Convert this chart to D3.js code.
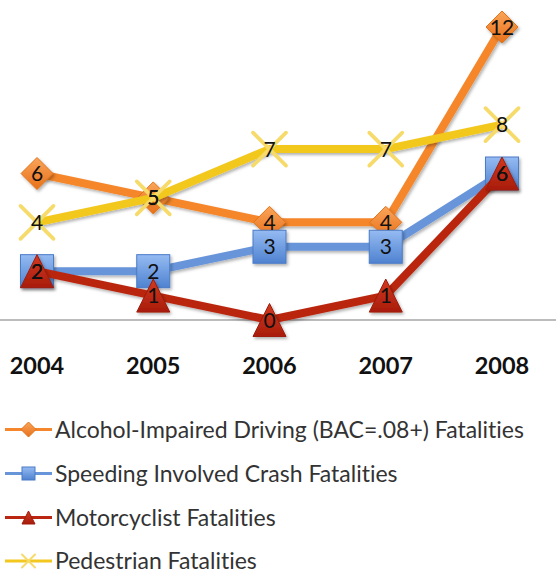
<!DOCTYPE html>
<html><head><meta charset="utf-8">
<script src="https://cdn.jsdelivr.net/npm/d3@7/dist/d3.min.js"></script>
<style>html,body{margin:0;padding:0;background:#fff;}svg{display:block;}text{font-variant-ligatures:none;font-feature-settings:"liga" 0;}</style>
</head><body>
<svg id="c" width="556" height="575"></svg>
<script>
const years = ["2004","2005","2006","2007","2008"];
const seriesNames = ["Alcohol-Impaired Driving (BAC=.08+) Fatalities","Speeding Involved Crash Fatalities","Motorcyclist Fatalities","Pedestrian Fatalities"];
const alcohol = [6,5,4,4,12];
const speeding = [2,2,3,3,6];
const motorcyclist = [2,1,0,1,6];
const pedestrian = [4,5,7,7,8];

const colors = ["#F5862C","#6895DA","#BA2611","#F3C81E"];
const markers = ["diamond","square","triangle","x"];
const seriesValues = [alcohol, speeding, motorcyclist, pedestrian];

const svg = d3.select("#c");
const defs = svg.append("defs");
const f = defs.append("filter").attr("id","sh").attr("x","-30%").attr("y","-30%").attr("width","160%").attr("height","160%");
f.append("feDropShadow").attr("dx",1.5).attr("dy",2).attr("stdDeviation",1.5).attr("flood-color","#000").attr("flood-opacity",0.3);

function grad(id, c1, c2){
  const g = defs.append("linearGradient").attr("id",id).attr("x1",0).attr("y1",0).attr("x2",0).attr("y2",1);
  g.append("stop").attr("offset","0%").attr("stop-color",c1);
  g.append("stop").attr("offset","100%").attr("stop-color",c2);
}
grad("gd","#F9A55A","#E8701A");
grad("gs","#95BBF2","#4F82D0");
grad("gt","#D23A1F","#A81C0C");

const x = d3.scalePoint().domain(years).range([37, 502]);
const y = d3.scaleLinear().domain([0,12]).range([320, 27]);

// axis baseline
svg.append("line").attr("x1",0).attr("x2",556).attr("y1",y(0)).attr("y2",y(0))
  .attr("stroke","#A6A6A6").attr("stroke-width",1.5);

// category labels
svg.append("g").selectAll("text").data(years).join("text")
  .attr("x",d=>x(d)).attr("y",374).attr("text-anchor","middle")
  .attr("font-family","Lato, 'Open Sans', sans-serif").attr("font-weight","bold")
  .attr("font-size",23.5).attr("fill","#111").text(d=>d);

function drawMarker(g, type, cx, cy, s, i){
  const h = s/2;
  if(type==="diamond"){
    g.append("path").attr("d",`M${cx},${cy-h}L${cx+h},${cy}L${cx},${cy+h}L${cx-h},${cy}Z`)
      .attr("fill","url(#gd)").attr("stroke","#E27318").attr("stroke-width",1);
  } else if(type==="square"){
    g.append("rect").attr("x",cx-h).attr("y",cy-h).attr("width",s).attr("height",s)
      .attr("fill","url(#gs)").attr("stroke","#4A7BC6").attr("stroke-width",1);
  } else if(type==="triangle"){
    g.append("path").attr("d",`M${cx},${cy-h}L${cx+h},${cy+h}L${cx-h},${cy+h}Z`)
      .attr("fill","url(#gt)").attr("stroke","#9E1B0B").attr("stroke-width",1);
  } else {
    g.append("path").attr("d",`M${cx-h},${cy-h}L${cx+h},${cy+h}M${cx+h},${cy-h}L${cx-h},${cy+h}`)
      .attr("stroke","#F6DA6A").attr("stroke-width",Math.max(2,s/9)).attr("stroke-linecap","round").attr("fill","none");
  }
}

const line = d3.line().x((d,i)=>x(years[i])).y(d=>y(d));
const plot = svg.append("g");
seriesValues.forEach((vals,si)=>{
  const g = plot.append("g");
  g.append("path").datum(vals).attr("d",line).attr("fill","none")
    .attr("stroke",colors[si]).attr("stroke-width",8).attr("stroke-linejoin","round")
    .attr("filter","url(#sh)");
  const mg = g.append("g").attr("filter", markers[si]==="x" ? null : "url(#sh)");
  vals.forEach((v,i)=>{
    drawMarker(mg, markers[si], x(years[i]), y(v), markers[si]==="diamond"?32:33, si);
  });
});

// data labels
const lab = svg.append("g");
seriesValues.forEach((vals,si)=>{
  vals.forEach((v,i)=>{
    lab.append("text").attr("x",x(years[i])).attr("y",y(v)).attr("dy","0.36em")
      .attr("text-anchor","middle").attr("font-family","Lato, sans-serif")
      .attr("font-size",21).attr("fill","#111").text(v);
  });
});

// legend
const leg = svg.append("g");
const legY = [429.5, 473.5, 517.5, 561];
seriesNames.forEach((name,si)=>{
  const ly = legY[si];
  const g = leg.append("g");
  g.append("line").attr("x1",5).attr("x2",52).attr("y1",ly).attr("y2",ly)
    .attr("stroke",colors[si]).attr("stroke-width",3);
  drawMarker(g, markers[si], 28.5, ly, markers[si]==="diamond"?15:13, si);
  g.append("text").attr("x",55).attr("y",ly).attr("dy","0.36em")
    .attr("font-family","Lato, sans-serif").attr("font-size",23).attr("fill","#333").text(name);
});
</script>
</body></html>
